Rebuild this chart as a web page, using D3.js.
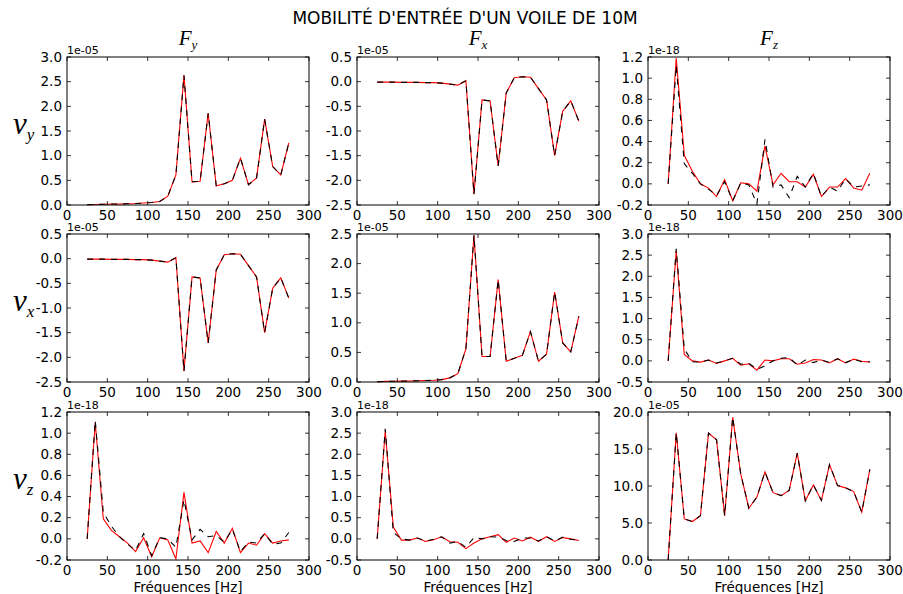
<!DOCTYPE html>
<html>
<head>
<meta charset="utf-8">
<script src="https://cdn.jsdelivr.net/npm/d3@7"></script>
<style>
  html, body { margin: 0; padding: 0; background: #fff; }
  svg text { font-family: "DejaVu Sans", sans-serif; fill: #000; }
</style>
</head>
<body>
<svg id="chart" width="903" height="594"></svg>
<script>
// ---------------- DATA ----------------
const frequencies = [25,35,45,55,65,75,85,95,105,115,125,135,145,155,165,175,185,195,205,215,225,235,245,255,265,275];

const rowLabels = ["y", "x", "z"];      // v_y, v_x, v_z
const colLabels = ["y", "x", "z"];      // F_y, F_x, F_z
const titleText = "MOBILITÉ D'ENTRÉE D'UN VOILE DE 10M";
const xLabelText = "Fréquences [Hz]";
const xTicks = [0, 50, 100, 150, 200, 250, 300];

// row 1 : v_y
const vyFyRed   = [0.005,0.01,0.015,0.02,0.02,0.025,0.03,0.04,0.05,0.07,0.18,0.61,2.63,0.47,0.48,1.86,0.39,0.43,0.50,0.95,0.41,0.55,1.74,0.78,0.61,1.26];
const vyFyBlack = [0.005,0.01,0.015,0.02,0.02,0.025,0.03,0.04,0.05,0.07,0.18,0.61,2.63,0.47,0.48,1.86,0.39,0.43,0.50,0.95,0.41,0.55,1.74,0.78,0.61,1.26];
const vyFxRed   = [-0.01,-0.01,-0.01,-0.015,-0.015,-0.015,-0.02,-0.02,-0.03,-0.05,-0.07,0.02,-2.28,-0.37,-0.39,-1.71,-0.23,0.08,0.10,0.09,-0.14,-0.37,-1.50,-0.60,-0.39,-0.80];
const vyFxBlack = [-0.01,-0.01,-0.01,-0.015,-0.015,-0.015,-0.02,-0.02,-0.03,-0.05,-0.07,0.02,-2.28,-0.37,-0.39,-1.71,-0.23,0.08,0.10,0.09,-0.14,-0.37,-1.50,-0.60,-0.39,-0.80];
const vyFzRed   = [0.0,1.19,0.27,0.12,0.0,-0.04,-0.12,0.04,-0.16,0.01,0.0,-0.07,0.36,-0.01,0.10,0.02,0.02,-0.03,0.09,-0.12,-0.03,-0.03,0.05,-0.04,-0.06,0.10];
const vyFzBlack = [0.0,1.12,0.19,0.10,0.0,-0.05,-0.11,0.02,-0.16,0.01,-0.01,-0.19,0.42,-0.03,-0.01,-0.13,0.07,-0.03,0.10,-0.12,-0.03,-0.07,0.05,-0.03,-0.02,-0.01];

// row 2 : v_x
const vxFyRed   = [-0.01,-0.01,-0.01,-0.015,-0.015,-0.015,-0.02,-0.02,-0.03,-0.05,-0.07,0.02,-2.28,-0.37,-0.39,-1.71,-0.23,0.08,0.10,0.09,-0.14,-0.37,-1.50,-0.60,-0.39,-0.80];
const vxFyBlack = [-0.01,-0.01,-0.01,-0.015,-0.015,-0.015,-0.02,-0.02,-0.03,-0.05,-0.07,0.02,-2.28,-0.37,-0.39,-1.71,-0.23,0.08,0.10,0.09,-0.14,-0.37,-1.50,-0.60,-0.39,-0.80];
const vxFxRed   = [0.005,0.01,0.012,0.015,0.018,0.02,0.025,0.03,0.04,0.07,0.14,0.56,2.48,0.43,0.43,1.73,0.35,0.40,0.45,0.85,0.35,0.47,1.52,0.66,0.51,1.11];
const vxFxBlack = [0.005,0.01,0.012,0.015,0.018,0.02,0.025,0.03,0.04,0.07,0.14,0.56,2.48,0.43,0.43,1.73,0.35,0.40,0.45,0.85,0.35,0.47,1.52,0.66,0.51,1.11];
const vxFzRed   = [0.0,2.60,0.15,0.0,-0.03,0.02,-0.06,0.0,0.06,-0.10,-0.07,-0.22,0.02,0.0,0.05,0.05,-0.08,-0.05,0.03,0.02,-0.05,0.05,-0.05,0.04,-0.01,-0.03];
const vxFzBlack = [0.0,2.65,0.28,-0.02,-0.03,0.02,-0.05,0.0,0.06,-0.08,-0.06,-0.20,-0.12,0.0,0.06,0.08,-0.10,0.02,-0.04,0.02,-0.04,0.05,-0.04,0.04,-0.02,-0.02];

// row 3 : v_z
const vzFyRed   = [0.0,1.10,0.19,0.08,0.02,-0.04,-0.12,0.01,-0.17,0.01,-0.01,-0.19,0.44,-0.04,-0.02,-0.13,0.07,-0.04,0.10,-0.13,-0.04,-0.06,0.05,-0.04,-0.02,-0.01];
const vzFyBlack = [0.0,1.12,0.25,0.12,0.02,-0.05,-0.11,0.05,-0.16,0.01,0.0,-0.08,0.37,-0.01,0.09,0.02,0.03,-0.03,0.09,-0.12,-0.03,-0.04,0.05,-0.05,-0.04,0.06];
const vzFxRed   = [0.0,2.55,0.28,-0.03,-0.03,0.02,-0.06,-0.02,0.05,-0.07,-0.08,-0.23,-0.10,0.0,0.05,0.10,-0.08,0.02,-0.05,0.04,-0.06,0.05,-0.06,0.03,0.0,-0.04];
const vzFxBlack = [0.0,2.60,0.15,0.0,-0.03,0.02,-0.05,-0.01,0.05,-0.10,-0.06,-0.20,0.03,0.0,0.05,0.04,-0.04,-0.06,0.02,0.02,-0.05,0.05,-0.05,0.04,-0.01,-0.03];
const vzFzRed   = [0.0,17.2,5.55,5.2,6.0,17.15,16.25,6.0,19.3,11.6,7.0,8.5,11.9,9.1,8.7,9.4,14.45,8.0,10.15,8.05,12.9,10.05,9.75,9.25,6.45,12.25];
const vzFzBlack = [0.0,17.2,5.55,5.2,6.0,17.15,16.25,6.0,19.3,11.6,7.0,8.5,11.9,9.1,8.7,9.4,14.45,8.0,10.15,8.05,12.9,10.05,9.75,9.25,6.45,12.25];

// y-axis settings per panel
const yDomains = [
  [[0, 3.0], [-2.5, 0.5], [-0.2, 1.2]],
  [[-2.5, 0.5], [0, 2.5], [-0.5, 3.0]],
  [[-0.2, 1.2], [-0.5, 3.0], [0, 20]]
];
const yStepsGrid = [
  [0.5, 0.5, 0.2],
  [0.5, 0.5, 0.5],
  [0.2, 0.5, 5.0]
];
const offsetTexts = [
  ["1e-05", "1e-05", "1e-18"],
  ["1e-05", "1e-05", "1e-18"],
  ["1e-18", "1e-18", "1e-05"]
];
const redSeries = [
  [vyFyRed, vyFxRed, vyFzRed],
  [vxFyRed, vxFxRed, vxFzRed],
  [vzFyRed, vzFxRed, vzFzRed]
];
const blackSeries = [
  [vyFyBlack, vyFxBlack, vyFzBlack],
  [vxFyBlack, vxFxBlack, vxFzBlack],
  [vzFyBlack, vzFxBlack, vzFzBlack]
];

// ---------------- LAYOUT ----------------
const colLeft = [67, 357, 648];
const rowTop = [57, 234, 412];
const axW = 242, axH = 148;
const tickLen = 4;

const svg = d3.select("#chart");

svg.append("text")
  .attr("x", 465).attr("y", 24)
  .attr("text-anchor", "middle")
  .style("font-size", "17px")
  .text(titleText);

function fmt(v) {
  return (Math.abs(v) < 1e-9 ? 0 : v).toFixed(1);
}

for (let r = 0; r < 3; r++) {
  for (let c = 0; c < 3; c++) {
    const x0 = colLeft[c], y0 = rowTop[r];
    const g = svg.append("g").attr("transform", `translate(${x0},${y0})`);
    const xs = d3.scaleLinear().domain([0, 300]).range([0, axW]);
    const [ymin, ymax] = yDomains[r][c];
    const ys = d3.scaleLinear().domain([ymin, ymax]).range([axH, 0]);
    const step = yStepsGrid[r][c];
    const n = Math.round((ymax - ymin) / step);
    const yTicks = d3.range(n + 1).map(i => +(ymin + i * step).toFixed(6));

    // lines
    const line = d3.line().x((d, i) => xs(frequencies[i])).y(d => ys(d));
    g.append("path").datum(redSeries[r][c])
      .attr("d", line).attr("fill", "none")
      .attr("stroke", "#ff0000").attr("stroke-width", 1.1);
    g.append("path").datum(blackSeries[r][c])
      .attr("d", line).attr("fill", "none")
      .attr("stroke", "#000").attr("stroke-width", 1.1)
      .attr("stroke-dasharray", "6,6");

    // ticks (inside, all four sides)
    const tg = g.append("g").attr("stroke", "#000").attr("stroke-width", 0.8);
    xTicks.forEach(t => {
      const x = xs(t);
      tg.append("line").attr("x1", x).attr("x2", x).attr("y1", axH).attr("y2", axH - tickLen);
      tg.append("line").attr("x1", x).attr("x2", x).attr("y1", 0).attr("y2", tickLen);
    });
    yTicks.forEach(t => {
      const y = ys(t);
      tg.append("line").attr("x1", 0).attr("x2", tickLen).attr("y1", y).attr("y2", y);
      tg.append("line").attr("x1", axW).attr("x2", axW - tickLen).attr("y1", y).attr("y2", y);
    });

    // frame
    g.append("rect").attr("x", 0).attr("y", 0).attr("width", axW).attr("height", axH)
      .attr("fill", "none").attr("stroke", "#000").attr("stroke-width", 1);

    // tick labels
    xTicks.forEach(t => {
      g.append("text").attr("x", xs(t)).attr("y", axH + 15)
        .attr("text-anchor", "middle").style("font-size", "13.5px").text(String(t));
    });
    yTicks.forEach(t => {
      g.append("text").attr("x", -5).attr("y", ys(t) + 4.5)
        .attr("text-anchor", "end").style("font-size", "13.5px").text(fmt(t));
    });

    // offset text
    g.append("text").attr("x", 0).attr("y", -3)
      .style("font-size", "11px").text(offsetTexts[r][c]);

    // column titles
    if (r === 0) {
      const t = svg.append("text")
        .attr("x", x0 + axW / 2).attr("y", y0 - 12)
        .attr("text-anchor", "middle")
        .style("font-family", "'Liberation Serif', 'DejaVu Serif', serif")
        .style("font-style", "italic").style("font-size", "21px");
      t.append("tspan").text("F");
      t.append("tspan").attr("dy", 4).style("font-size", "13px").text(colLabels[c]);
    }
    // row labels
    if (c === 0) {
      const t = svg.append("text")
        .attr("x", 13).attr("y", y0 + axH / 2 + 3)
        .style("font-family", "'Liberation Serif', 'DejaVu Serif', serif")
        .style("font-style", "italic").style("font-size", "31px");
      t.append("tspan").text("v");
      t.append("tspan").attr("dy", 6).style("font-size", "17px").text(rowLabels[r]);
    }
    // x labels
    if (r === 2) {
      svg.append("text").attr("x", x0 + axW / 2).attr("y", y0 + axH + 32)
        .attr("text-anchor", "middle").style("font-size", "13.5px").text(xLabelText);
    }
  }
}
</script>
</body>
</html>
